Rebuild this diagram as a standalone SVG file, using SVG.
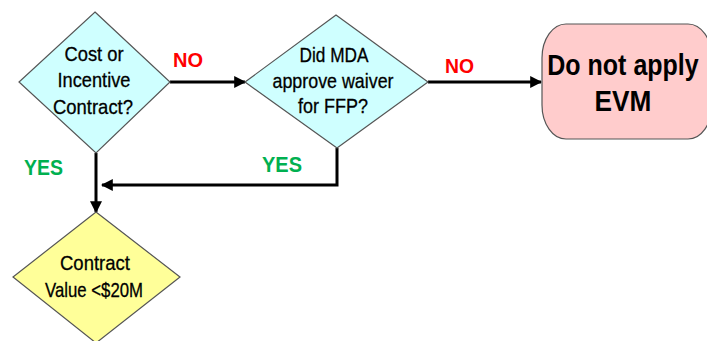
<svg xmlns="http://www.w3.org/2000/svg" width="707" height="341" viewBox="0 0 707 341">
  <defs>
    <marker id="arrow" viewBox="0 0 10 10" refX="9" refY="5" markerWidth="4" markerHeight="4" orient="auto" markerUnits="strokeWidth">
      <path d="M0,0 L10,5 L0,10 Z" fill="#000"/>
    </marker>
  </defs>
  <style>
    .decision { stroke: #555; stroke-width: 1.2; }
    .q { fill: #cfffff; }
    .v { fill: #ffff99; }
    .term { fill: #ffcccc; stroke: #555; stroke-width: 1.2; }
    .txt { font-family: "Liberation Sans", Arial, sans-serif; font-size: 21px; fill: #000; text-anchor: middle; stroke: #000; stroke-width: 0.3; }
    .big { font-family: "Liberation Sans", Arial, sans-serif; font-size: 25px; font-weight: bold; fill: #000; text-anchor: middle; }
    .no { font-family: "Liberation Sans", Arial, sans-serif; font-size: 20px; font-weight: bold; fill: #ff0000; }
    .yes { font-family: "Liberation Sans", Arial, sans-serif; font-size: 22px; font-weight: bold; fill: #00b050; }
    .wire { fill: none; stroke: #000; stroke-width: 3; }
  </style>
  <rect width="707" height="341" fill="#fff"/>

  <g id="connectors">
    <line class="wire" x1="170" y1="82" x2="245" y2="82" marker-end="url(#arrow)"/>
    <line class="wire" x1="428" y1="82" x2="541" y2="82" marker-end="url(#arrow)"/>
    <polyline class="wire" points="337,148 337,185 102,185" marker-end="url(#arrow)"/>
    <line class="wire" x1="96" y1="153" x2="96" y2="212" marker-end="url(#arrow)"/>
    <text class="no" x="173" y="67" textLength="30" lengthAdjust="spacingAndGlyphs">NO</text>
    <text class="no" x="445" y="73" textLength="29" lengthAdjust="spacingAndGlyphs">NO</text>
    <text class="yes" x="24" y="175" textLength="39" lengthAdjust="spacingAndGlyphs">YES</text>
    <text class="yes" x="262" y="172" textLength="40" lengthAdjust="spacingAndGlyphs">YES</text>
  </g>

  <g id="cost-or-incentive">
    <polygon class="decision q" points="95,12 170,82 96,153 19,82"/>
    <text class="txt" x="94" y="61" textLength="59" lengthAdjust="spacingAndGlyphs">Cost or</text>
    <text class="txt" x="94" y="87" textLength="73" lengthAdjust="spacingAndGlyphs">Incentive</text>
    <text class="txt" x="93" y="114" textLength="80" lengthAdjust="spacingAndGlyphs">Contract?</text>
  </g>

  <g id="mda-waiver">
    <polygon class="decision q" points="336,15 428,82 337,148 245,82"/>
    <text class="txt" x="334" y="62" textLength="69" lengthAdjust="spacingAndGlyphs">Did MDA</text>
    <text class="txt" x="333" y="88" textLength="121" lengthAdjust="spacingAndGlyphs">approve waiver</text>
    <text class="txt" x="333" y="113" textLength="70" lengthAdjust="spacingAndGlyphs">for FFP?</text>
  </g>

  <g id="do-not-apply">
    <rect class="term" x="542" y="24" width="170" height="115" rx="24" ry="34"/>
    <text class="big" transform="translate(623,75) scale(1,1.15)">Do not apply</text>
    <text class="big" transform="translate(623,111) scale(1.05,1.15)">EVM</text>
  </g>

  <g id="contract-value">
    <polygon class="decision v" points="96,212 180,277 96,343 13,277"/>
    <text class="txt" x="95" y="270" textLength="70" lengthAdjust="spacingAndGlyphs">Contract</text>
    <text class="txt" x="94" y="297" textLength="98" lengthAdjust="spacingAndGlyphs">Value &lt;$20M</text>
  </g>
</svg>
